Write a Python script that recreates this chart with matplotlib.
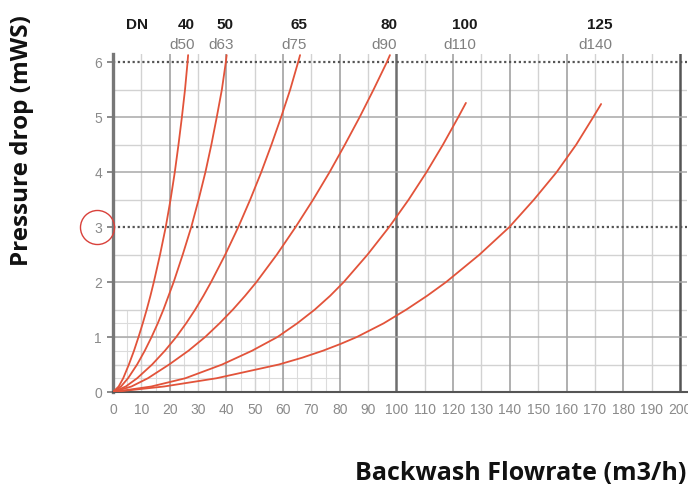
import matplotlib
matplotlib.use("Agg")
import matplotlib.pyplot as plt
from matplotlib import font_manager

names = {f.name for f in font_manager.fontManager.ttflist}
narrow = "Liberation Sans Narrow" if "Liberation Sans Narrow" in names else "Liberation Sans"

# ---- data ----
dn_labels = ["40", "50", "65", "80", "100", "125"]
d_labels = ["d50", "d63", "d75", "d90", "d110", "d140"]

levels_y = [0, 0.1, 0.25, 0.5, 0.75, 1.0, 1.25, 1.5, 1.75, 2.0, 2.5, 3.0, 3.5, 4.0, 4.5, 5.0, 5.5, 6.0, 6.13]
dn40_x = [0, 2.0, 3.6, 5.6, 7.4, 9.0, 10.5, 11.9, 13.2, 14.4, 16.6, 18.6, 20.3, 21.8, 23.1, 24.3, 25.4, 26.3, 26.5]
dn50_x = [0, 2.8, 5.3, 8.5, 11.2, 13.6, 15.8, 17.8, 19.6, 21.4, 24.6, 27.6, 30.2, 32.6, 34.7, 36.6, 38.4, 39.8, 40.1]
dn65_x = [0, 4.5, 8.5, 13.8, 18.3, 22.3, 25.8, 29.0, 31.9, 34.6, 39.6, 44.2, 48.4, 52.3, 55.9, 59.3, 62.5, 65.3, 66.0]
dn80_x = [0, 6.5, 12.3, 19.8, 26.6, 32.5, 37.6, 42.3, 46.6, 50.6, 57.8, 64.4, 70.6, 76.4, 81.8, 87.0, 91.9, 96.6, 97.7]

levels_y_100 = [0, 0.1, 0.25, 0.5, 0.75, 1.0, 1.25, 1.5, 1.75, 2.0, 2.5, 3.0, 3.5, 4.0, 4.5, 5.0, 5.26]
dn100_x = [0, 13.5, 25.5, 38.5, 49.0, 58.0, 65.0, 71.2, 76.6, 81.4, 89.8, 97.4, 104.3, 110.6, 116.4, 121.8, 124.5]

levels_y_125 = [0, 0.1, 0.25, 0.5, 0.625, 0.75, 0.875, 1.0, 1.25, 1.5, 1.75, 2.0, 2.5, 3.0, 3.5, 4.0, 4.5, 5.0, 5.24]
dn125_x = [0, 18.0, 36.5, 58.5, 66.8, 74.0, 80.3, 86.0, 95.5, 103.5, 110.8, 117.5, 129.3, 139.8, 148.5, 156.5, 163.4, 169.4, 172.2]

series_x = [dn40_x, dn50_x, dn65_x, dn80_x, dn100_x, dn125_x]
series_y = [levels_y, levels_y, levels_y, levels_y, levels_y_100, levels_y_125]

x_ticks = list(range(0, 201, 10))
y_ticks = [0, 1, 2, 3, 4, 5, 6]

# ---- figure ----
fig = plt.figure(figsize=(6.88, 4.87), dpi=100)
ax = fig.add_axes([113 / 688, 95 / 487, 574 / 688, 338 / 487])
ax.set_xlim(0, 202.5)
ax.set_ylim(0, 6.15)

# fine grid in lower-left region
for xv in range(5, 80, 5):
    ax.vlines(xv, 0, 1.5, color="#dcdcdc", lw=0.8, zorder=0)
for k in range(1, 6):
    ax.hlines(k * 0.25, 0, 80, color="#dcdcdc", lw=0.8, zorder=0)

# main grid
for xv in range(10, 200, 10):
    if xv == 100:
        ax.axvline(xv, color="#6e6e6e", lw=1.8, zorder=1)
    elif xv % 20 == 0:
        ax.axvline(xv, color="#9a9a9a", lw=1.1, zorder=1)
    else:
        ax.axvline(xv, color="#d2d2d2", lw=1.0, zorder=0.5)
ax.axvline(200, color="#555555", lw=1.8, zorder=1)
for k in range(1, 12):
    yv = k * 0.5
    if yv in (3, 6):
        continue
    if k % 2 == 0:
        ax.axhline(yv, color="#a8a8a8", lw=1.1, zorder=1)
    else:
        ax.axhline(yv, color="#d2d2d2", lw=1.0, zorder=0.5)
for yv in (3, 6):
    ax.plot([0, 1], [yv, yv], transform=ax.get_yaxis_transform(),
            color="#555555", lw=1.6, ls=(0, (1, 1.2)), zorder=2, clip_on=False)

# curves
for xs, ys in zip(series_x, series_y):
    ax.plot(xs, ys, color="#e2533a", lw=1.3, zorder=3,
            solid_capstyle="round", solid_joinstyle="round")

# top labels
for xs, dn, d in zip(series_x, dn_labels, d_labels):
    ax.text(xs[-1] - 0.5, 6.67, dn, ha="center", va="center", fontsize=11,
            fontweight="bold", family="Liberation Sans", color="#1a1a1a", clip_on=False)
    ax.text(xs[-1] - 2.0, 6.32, d, ha="center", va="center", fontsize=11,
            family="Liberation Sans", color="#808080", clip_on=False)
ax.text(8.3, 6.67, "DN", ha="center", va="center", fontsize=11,
        fontweight="bold", family="Liberation Sans", color="#1a1a1a", clip_on=False)

# spines & ticks
for s in ("top", "right"):
    ax.spines[s].set_visible(False)
ax.spines["left"].set_color("#777777")
ax.spines["left"].set_linewidth(2.4)
ax.spines["bottom"].set_color("#555555")
ax.spines["bottom"].set_linewidth(1.5)
ax.set_xticks(x_ticks)
ax.set_yticks(y_ticks)
ax.tick_params(axis="x", length=0, pad=8, labelsize=10, labelcolor="#8a8a8a")
ax.tick_params(axis="y", length=4, width=1.2, color="#777777", pad=4,
               labelsize=10, labelcolor="#8a8a8a")
for lab in ax.get_xticklabels() + ax.get_yticklabels():
    lab.set_family(narrow)

# red circle around "3"
ax.plot([-5.6], [3], marker="o", ms=24.5, mfc="none", mec="#d9403a", mew=1.0,
        clip_on=False, zorder=5)

# axis titles
fig.text(22 / 688, 1 - 141 / 487, "Pressure drop (mWS)", rotation=90,
         ha="center", va="center", fontsize=17.5, fontweight="bold",
         family="Open Sans", color="#111111")
fig.text(521 / 688, 1 - 474 / 487, "Backwash Flowrate (m3/h)",
         ha="center", va="center", fontsize=18, fontweight="bold",
         family="Open Sans", color="#111111")

fig.savefig("out.png", dpi=100)
